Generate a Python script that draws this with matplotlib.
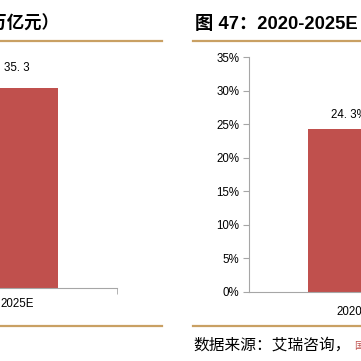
import matplotlib
matplotlib.use('Agg')
import matplotlib.pyplot as plt
from matplotlib.lines import Line2D
from matplotlib.ticker import FuncFormatter

plt.rcParams['font.family'] = ['Liberation Sans', 'Noto Sans CJK SC']

# data
left_categories = ['2025E']
left_values = [35.3]
left_labels = ['35. 3']

right_categories = ['2020']
right_values = [24.3]
right_labels = ['24. 3%']
right_yticks = [0, 5, 10, 15, 20, 25, 30, 35]

BAR = '#C0504D'
GOLD = '#C9A063'
AXIS = '#A6A6A6'
W, H = 361, 361


def fx(x):
    return x / W


def fy(y):
    return 1 - y / H


fig = plt.figure(figsize=(3.61, 3.61), dpi=100)

# left chart (mostly cut off)
axl = fig.add_axes([fx(117 - 400), fy(288), fx(400), fy(61.4) - fy(288)])
axl.bar(range(len(left_categories)), left_values, width=0.41, color=BAR)
axl.set_xlim(-1.5, 0.5)
axl.set_ylim(0, 40)
for s in ['top', 'right', 'left']:
    axl.spines[s].set_visible(False)
axl.spines['bottom'].set_color(AXIS)
axl.set_yticks([])
axl.set_xticks(range(len(left_categories)))
axl.set_xticklabels(left_categories, fontsize=8.3)
axl.tick_params(axis='x', length=0, pad=7)
axl.set_xticks([0.5], minor=True)
axl.tick_params(axis='x', which='minor', length=4, color=AXIS)
for i, v in enumerate(left_values):
    axl.annotate(left_labels[i], (i, v), xytext=(0, 10), textcoords='offset points',
                 ha='center', va='bottom', fontsize=8.3)

# right chart
axr = fig.add_axes([fx(249), fy(292), fx(400), fy(57) - fy(292)])
axr.bar(range(len(right_categories)), right_values, width=0.41, color=BAR)
axr.set_xlim(-0.5, 1.5)
axr.set_ylim(0, 35)
for s in ['top', 'right']:
    axr.spines[s].set_visible(False)
axr.spines['bottom'].set_color(AXIS)
axr.spines['left'].set_color(AXIS)
axr.set_yticks(right_yticks)
axr.yaxis.set_major_formatter(FuncFormatter(lambda v, p: f'{v:.0f}%'))
axr.tick_params(axis='y', length=4, color=AXIS, labelsize=8.3, pad=3)
axr.set_xticks(range(len(right_categories)))
axr.set_xticklabels(right_categories, fontsize=8.3)
axr.tick_params(axis='x', length=0, pad=10)
for i, v in enumerate(right_values):
    axr.annotate(right_labels[i], (i, v), xytext=(0, 6), textcoords='offset points',
                 ha='center', va='bottom', fontsize=8.3)

# titles
fig.text(fx(59), fy(24), '（万亿元）', ha='right', va='center', fontsize=12.5,
         fontweight='bold', family=['Noto Sans CJK SC'])
fig.text(fx(195), fy(24), '图 47：2020-2025E 我国', ha='left', va='center',
         fontsize=13.2, fontweight='bold')

# gold rules
for x0, x1 in [(0, 162), (193, 361)]:
    for y in [40.5, 326]:
        fig.add_artist(Line2D([fx(x0), fx(x1)], [fy(y), fy(y)], color=GOLD, lw=1.6))

# source
fig.text(fx(193), fy(345), '数据来源：艾瑞咨询，', ha='left', va='center', fontsize=11.3,
         style='italic', family=['Noto Sans CJK SC'])
fig.text(fx(354), fy(346), '国信证券经济研究所整理', ha='left', va='center', fontsize=7,
         color='#C0504D', family=['Noto Sans CJK SC'])

fig.savefig('out.png', dpi=100)
